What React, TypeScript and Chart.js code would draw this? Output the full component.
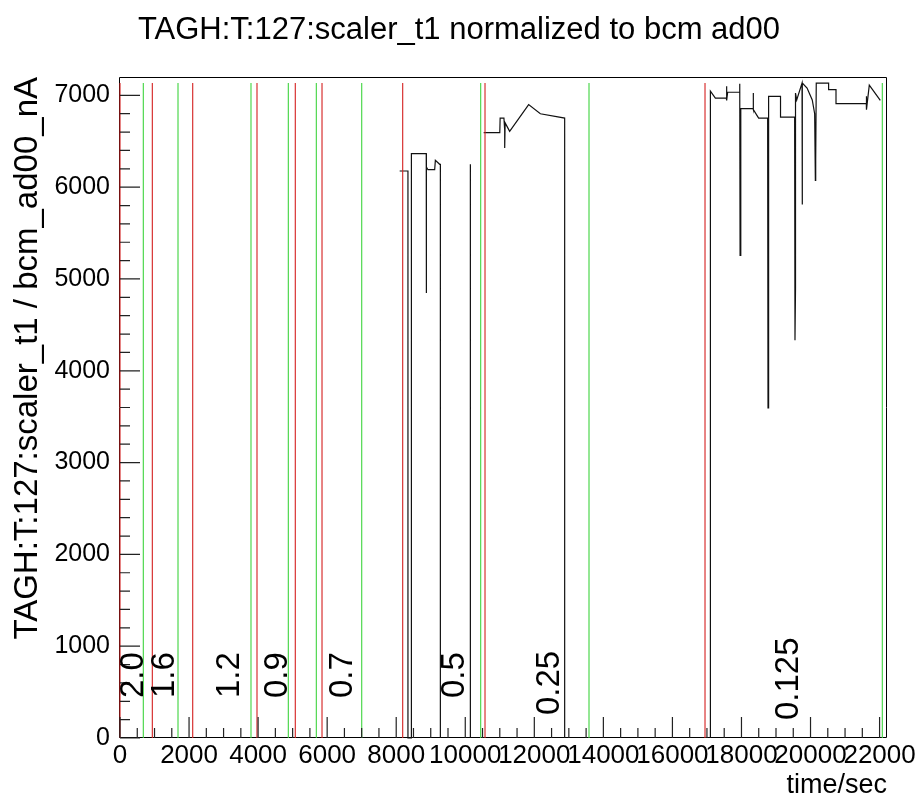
import React, { useEffect, useRef } from 'react';
import { Chart, registerables } from 'chart.js';

Chart.register(...registerables);

const FONT = '"Liberation Sans", Arial, Helvetica, sans-serif';

// Axis ranges and tick labels
const X_MIN = 0;
const X_MAX = 22215;
const Y_MIN = 0;
const Y_MAX = 7200;
const xTickValues = [0, 2000, 4000, 6000, 8000, 10000, 12000, 14000, 16000, 18000, 20000, 22000];
const yTickValues = [0, 1000, 2000, 3000, 4000, 5000, 6000, 7000];

// Run boundary markers (start = red, end = green)
const redLines = [0, 936, 2106, 3968, 5077, 5851, 8188, 10572, 16944];
const greenLines = [675, 1680, 3794, 4875, 5686, 7001, 10447, 13584, 22079];
const markerTop = 7135;

// Rate labels written inside the plot
const rateLabels = ['2.0', '1.6', '1.2', '0.9', '0.7', '0.5', '0.25', '0.125'];
const rateLabelX = [405, 1303, 3172, 4562, 6444, 9688, 12454, 19376];
const rateLabelY = [435, 435, 435, 435, 435, 435, 250, 196];

// Normalized scaler trace, in segments
const traceAX = [8100, 8340, 8340, 8440, 8440, 8870, 8870, 8878, 8920, 9114, 9134, 9259, 9279, 9279];
const traceAY = [6176, 6176, 0, 0, 6366, 6366, 4848, 6219, 6190, 6190, 6292, 6249, 6249, 0];

const traceBX = [10148, 10148];
const traceBY = [0, 6249];

const traceCX = [10533, 11000, 11010, 11120, 11142, 11142, 11155, 11286, 11836, 12175, 12879, 12879];
const traceCY = [6594, 6594, 6753, 6753, 6620, 6426, 6700, 6608, 6899, 6800, 6753, 0];

const traceDX = [17100, 17100, 17244, 17562, 17562, 17580, 17600, 17950, 17950, 17960, 17980, 17980, 18335, 18335, 18352, 18497, 18758, 18769, 18786, 18786, 19131, 19131, 19540, 19550, 19565, 19565, 19600, 19754, 19754, 19770, 19900, 20050, 20120, 20140, 20150, 20166, 20524, 20524, 20738, 20738, 21616, 21616, 21625, 21702, 22021];
const traceDY = [0, 7046, 6970, 6970, 7098, 6946, 7034, 7034, 7127, 5258, 6129, 6855, 6855, 7025, 6844, 6753, 6753, 3596, 5174, 6989, 6989, 6764, 6764, 4333, 4896, 7025, 6950, 7134, 5810, 7134, 7080, 6950, 6800, 6074, 6292, 7134, 7134, 7062, 7062, 6909, 6909, 6989, 6844, 7112, 6946];

const GREEN = '#3fd43f';
const RED = '#d42020';

type Pt = { x: number; y: number | null };

const verticals = (xs: number[]): Pt[] =>
  xs.flatMap((x) => [
    { x, y: 0 },
    { x, y: markerTop },
    { x, y: null },
  ]);

const toPoints = (xs: number[], ys: number[]): Pt[] => xs.map((x, i) => ({ x, y: ys[i] }));

const segments: Pt[][] = [
  toPoints(traceAX, traceAY),
  toPoints(traceBX, traceBY),
  toPoints(traceCX, traceCY),
  toPoints(traceDX, traceDY),
];

const tracePoints: Pt[] = segments.flatMap((seg) => [...seg, { x: seg[seg.length - 1].x, y: null }]);

const framePlugin = {
  id: 'rootFrame',
  beforeDatasetsDraw(chart: any) {
    const { ctx, chartArea } = chart;
    const { left, right, top, bottom } = chartArea;
    ctx.save();
    ctx.strokeStyle = '#000';
    ctx.lineWidth = 1;
    const L = Math.round(left) - 0.5;
    const R = Math.round(right) - 0.5;
    const T = Math.round(top) + 0.5;
    const B = Math.round(bottom) - 0.5;
    ctx.beginPath();
    ctx.rect(L, T, R - L, B - T);
    ctx.stroke();
    ctx.restore();
  },
  afterDatasetsDraw(chart: any) {
    const { ctx, scales, chartArea } = chart;
    const xs = scales.x;
    const ys = scales.y;
    const L = Math.round(chartArea.left);
    const B = Math.round(chartArea.bottom);
    ctx.save();
    ctx.strokeStyle = '#222';
    ctx.lineWidth = 1.2;
    ctx.beginPath();
    for (let v = X_MIN; v <= X_MAX; v += 500) {
      const px = xs.getPixelForValue(v);
      const len = v % 2000 === 0 ? 21 : 10;
      ctx.moveTo(px, B);
      ctx.lineTo(px, B - len);
    }
    for (let v = Y_MIN; v <= Y_MAX - 1; v += 200) {
      const py = ys.getPixelForValue(v);
      const len = v % 1000 === 0 ? 20 : 10;
      ctx.moveTo(L, py);
      ctx.lineTo(L + len, py);
    }
    ctx.stroke();
    ctx.restore();

    ctx.save();
    ctx.fillStyle = '#000';
    ctx.font = `33px ${FONT}`;
    ctx.textAlign = 'left';
    ctx.textBaseline = 'middle';
    rateLabels.forEach((t, i) => {
      ctx.save();
      ctx.translate(xs.getPixelForValue(rateLabelX[i]), ys.getPixelForValue(rateLabelY[i]));
      ctx.rotate(-Math.PI / 2);
      ctx.fillText(t, 0, 0);
      ctx.restore();
    });
    ctx.restore();
  },
};

export default function App() {
  const canvasRef = useRef<HTMLCanvasElement | null>(null);

  useEffect(() => {
    const canvas = canvasRef.current;
    if (!canvas) return;
    Chart.defaults.font.family = FONT;
    Chart.defaults.color = '#000';

    const lineDs = (data: Pt[], color: string, width: number) => ({
      data,
      borderColor: color,
      backgroundColor: color,
      borderWidth: width,
      showLine: true,
      pointRadius: 0,
      pointHoverRadius: 0,
      spanGaps: false,
      clip: false as any,
    });

    const chart = new Chart(canvas, {
      type: 'scatter',
      data: {
        datasets: [
          lineDs(verticals(greenLines), GREEN, 1.1),
          lineDs(verticals(redLines), RED, 1.1),
          lineDs(tracePoints, '#111111', 1.2),
        ] as any,
      },
      options: {
        animation: false,
        responsive: false,
        events: [],
        layout: { padding: 0 },
        plugins: {
          legend: { display: false },
          tooltip: { enabled: false },
          title: {
            display: true,
            text: 'TAGH:T:127:scaler_t1 normalized to bcm ad00',
            color: '#000',
            font: { size: 31, weight: 'normal', family: FONT, lineHeight: 1.2 },
            padding: { top: 12, bottom: 27.8 },
          },
        },
        scales: {
          x: {
            type: 'linear',
            min: X_MIN,
            max: X_MAX,
            grid: { display: false, drawTicks: false },
            border: { display: false },
            ticks: {
              autoSkip: false,
              maxRotation: 0,
              minRotation: 0,
              padding: 2,
              color: '#000',
              font: { size: 26, family: FONT },
              callback: (v: any) => String(v),
            },
            afterBuildTicks: (s: any) => {
              s.ticks = xTickValues.map((v) => ({ value: v }));
            },
            afterFit: (s: any) => {
              s.height = 59;
              s.paddingLeft = 0;
              s.paddingRight = 0;
            },
            title: {
              display: true,
              text: 'time/sec',
              align: 'end',
              color: '#000',
              font: { size: 27, family: FONT, lineHeight: 1.0 },
              padding: { top: 0, bottom: -2 },
            },
          },
          y: {
            type: 'linear',
            min: Y_MIN,
            max: Y_MAX,
            grid: { display: false, drawTicks: false },
            border: { display: false },
            ticks: {
              autoSkip: false,
              padding: 10,
              color: '#000',
              font: { size: 25, family: FONT },
              callback: (v: any) => String(v),
            },
            afterBuildTicks: (s: any) => {
              s.ticks = yTickValues.map((v) => ({ value: v }));
            },
            afterFit: (s: any) => {
              s.width = 120;
              s.paddingTop = 0;
              s.paddingBottom = 0;
            },
            title: {
              display: true,
              text: 'TAGH:T:127:scaler_t1 / bcm_ad00_nA',
              align: 'end',
              color: '#000',
              font: { size: 33, family: FONT, lineHeight: 1.2 },
              padding: { top: 8, bottom: 0 },
            },
          },
          y2: {
            type: 'linear',
            position: 'right',
            display: true,
            grid: { display: false, drawTicks: false },
            border: { display: false },
            ticks: { display: false },
            afterFit: (s: any) => {
              s.width = 31;
              s.paddingTop = 0;
              s.paddingBottom = 0;
            },
          },
        },
      } as any,
      plugins: [framePlugin],
    });

    return () => {
      chart.destroy();
    };
  }, []);

  return (
    <div style={{ position: 'fixed', left: 0, top: 0, width: 918, height: 797, background: '#fff' }}>
      <canvas ref={canvasRef} width={918} height={797} />
    </div>
  );
}
